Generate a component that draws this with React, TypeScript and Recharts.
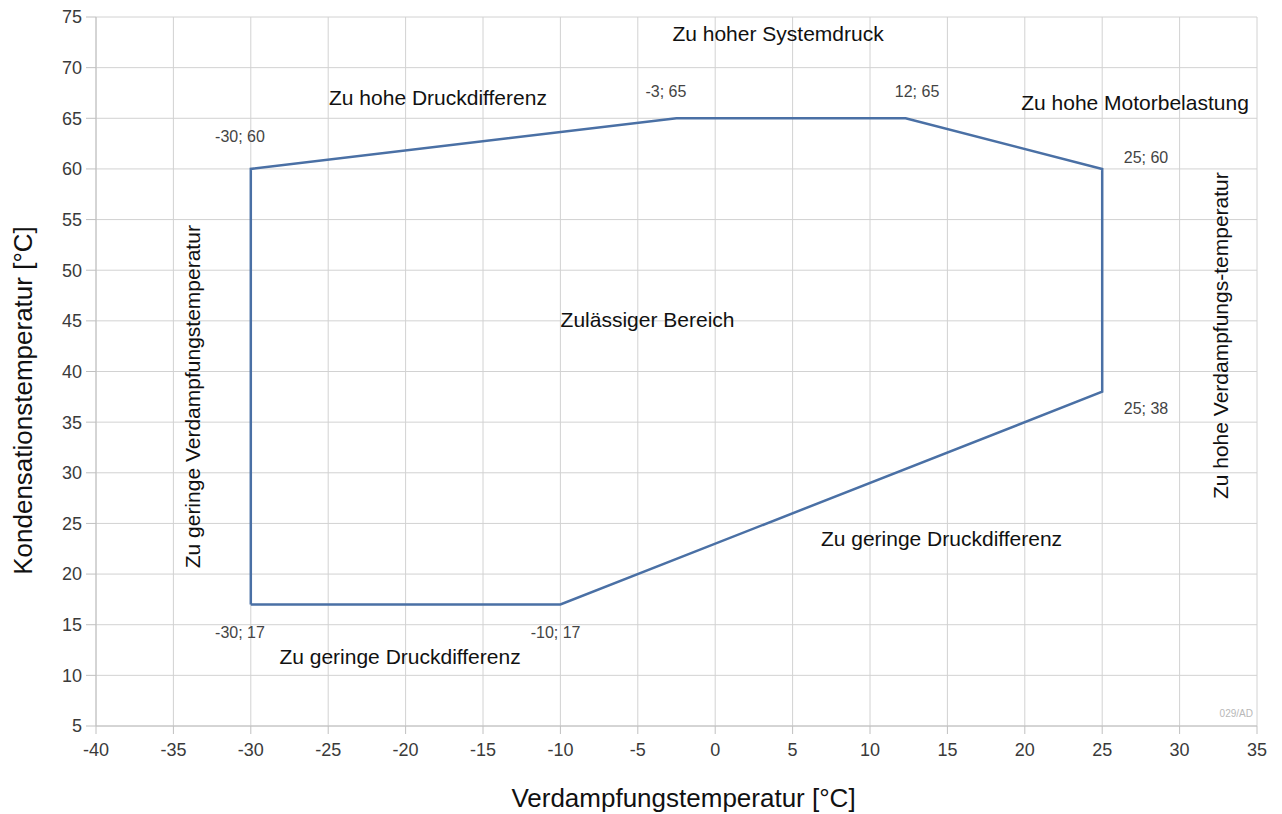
import React from 'react';
import { ScatterChart, Scatter, XAxis, YAxis, CartesianGrid } from 'recharts';

// Operating envelope vertices (closed polygon)
const envelopeX = [-30, -30, -2.5, 12.3, 25, 25, -10, -30];
const envelopeY = [17, 60, 65, 65, 60, 38, 17, 17];

// Vertex labels and where they sit (data units)
const vertexLabelText = ['-30; 60', '-3; 65', '12; 65', '25; 60', '25; 38', '-30; 17', '-10; 17'];
const vertexLabelX = [-30.7, -3.18, 13.04, 27.83, 27.83, -30.7, -10.31];
const vertexLabelY = [62.61, 67.15, 67.15, 60.63, 35.83, 13.7, 13.7];

// Region annotations (horizontal)
const noteText = [
  'Zu hoher Systemdruck',
  'Zu hohe Druckdifferenz',
  'Zu hohe Motorbelastung',
  'Zulässiger Bereich',
  'Zu geringe Druckdifferenz',
  'Zu geringe Druckdifferenz',
];
const noteX = [4.06, -17.91, 27.12, -4.37, 14.62, -20.36];
const noteY = [72.59, 66.36, 65.77, 44.43, 22.79, 11.13];

// Region annotations (vertical)
const vNoteText = ['Zu geringe Verdampfungstemperatur', 'Zu hohe Verdampfungs-temperatur'];
const vNoteX = [-33.28, 33.13];
const vNoteY = [37.51, 43.54];

const stampText = ['029/AD'];
const stampX = [34.74];
const stampY = [5.89];

const xTicks = [-40, -35, -30, -25, -20, -15, -10, -5, 0, 5, 10, 15, 20, 25, 30, 35];
const yTicks = [5, 10, 15, 20, 25, 30, 35, 40, 45, 50, 55, 60, 65, 70, 75];

const xTitle = 'Verdampfungstemperatur [°C]';
const yTitle = 'Kondensationstemperatur [°C]';

const FONT = '"Liberation Sans", Arial, Helvetica, sans-serif';

const envelopeData = envelopeX.map((x, i) => ({ x, y: envelopeY[i] }));
const vertexData = vertexLabelText.map((label, i) => ({ x: vertexLabelX[i], y: vertexLabelY[i], label }));
const noteData = noteText.map((label, i) => ({ x: noteX[i], y: noteY[i], label }));
const vNoteData = vNoteText.map((label, i) => ({ x: vNoteX[i], y: vNoteY[i], label }));
const stampData = stampText.map((label, i) => ({ x: stampX[i], y: stampY[i], label }));

const renderXTitle = (props: any) => {
  const vb = props.viewBox || {};
  return (
    <text x={vb.x + vb.width / 2 + 7} y={vb.y + 81} textAnchor="middle" fontSize={26} fill="#111" fontFamily={FONT}>
      {xTitle}
    </text>
  );
};

const renderYTitle = (props: any) => {
  const vb = props.viewBox || {};
  const cx = 32;
  const cy = vb.y + vb.height / 2 + 29;
  return (
    <text x={cx} y={cy} transform={`rotate(-90, ${cx}, ${cy})`} textAnchor="middle" fontSize={26} fill="#111" fontFamily={FONT}>
      {yTitle}
    </text>
  );
};

export default function App() {
  return (
    <div style={{ position: 'absolute', left: 0, top: 0, width: 1282, height: 814, background: '#fff' }}>
      <ScatterChart width={1282} height={814} margin={{ top: 17, right: 25, bottom: 0, left: 0 }}>
        <CartesianGrid stroke="#d2d2d2" strokeWidth={1} />
        <XAxis
          dataKey="x"
          type="number"
          domain={[-40, 35]}
          ticks={xTicks}
          allowDataOverflow
          height={88}
          tickSize={8}
          tickMargin={9}
          axisLine={{ stroke: '#c0c0c0' }}
          tickLine={{ stroke: '#c0c0c0' }}
          tick={{ fill: '#3a3a3a', fontSize: 18, fontFamily: FONT }}
          label={renderXTitle}
        />
        <YAxis
          dataKey="y"
          type="number"
          domain={[5, 75]}
          ticks={yTicks}
          allowDataOverflow
          width={96}
          tickSize={10}
          tickMargin={4}
          axisLine={{ stroke: '#c0c0c0' }}
          tickLine={{ stroke: '#c0c0c0' }}
          tick={{ fill: '#3a3a3a', fontSize: 18, fontFamily: FONT }}
          label={renderYTitle}
        />
        <Scatter
          data={envelopeData}
          fill="#4a70a5"
          line={{ stroke: '#4a70a5', strokeWidth: 2.5 }}
          lineType="joint"
          shape={() => <g />}
          isAnimationActive={false}
        />
        <Scatter
          data={vertexData}
          isAnimationActive={false}
          shape={(p: any) => (
            <text x={p.cx} y={p.cy} textAnchor="middle" fontSize={16} fill="#444" fontFamily={FONT}>
              {p.payload.label}
            </text>
          )}
        />
        <Scatter
          data={noteData}
          isAnimationActive={false}
          shape={(p: any) => (
            <text x={p.cx} y={p.cy} textAnchor="middle" fontSize={21} fill="#111" fontFamily={FONT}>
              {p.payload.label}
            </text>
          )}
        />
        <Scatter
          data={vNoteData}
          isAnimationActive={false}
          shape={(p: any) => (
            <text
              x={p.cx}
              y={p.cy}
              transform={`rotate(-90, ${p.cx}, ${p.cy})`}
              textAnchor="middle"
              fontSize={21}
              fill="#111"
              fontFamily={FONT}
            >
              {p.payload.label}
            </text>
          )}
        />
        <Scatter
          data={stampData}
          isAnimationActive={false}
          shape={(p: any) => (
            <text x={p.cx} y={p.cy} textAnchor="end" fontSize={10} fill="#b8b8b8" fontFamily={FONT}>
              {p.payload.label}
            </text>
          )}
        />
      </ScatterChart>
    </div>
  );
}
